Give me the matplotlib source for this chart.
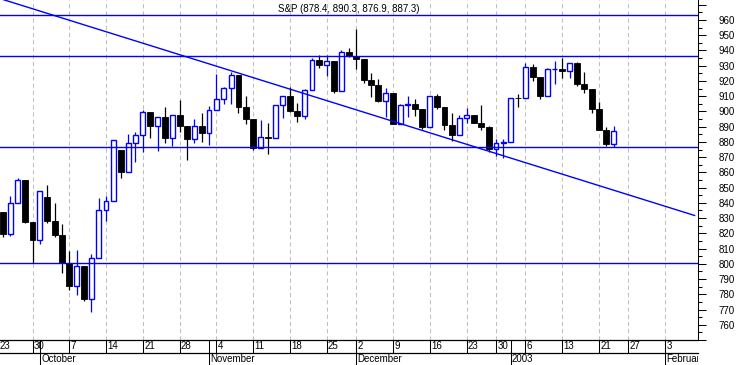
import matplotlib
matplotlib.use('Agg')
import matplotlib.pyplot as plt
import numpy as np
import pandas as pd

plt.rcParams['font.family'] = ['Liberation Sans', 'DejaVu Sans']
plt.rcParams['lines.scale_dashes'] = False

title = "S&P (878.4, 890.3, 876.9, 887.3)"

calendar_start = '2002-09-23'
calendar_end = '2003-02-28'
holidays = ['2002-11-28', '2002-12-25', '2003-01-01', '2003-01-20']

dates = [
    '2002-09-24', '2002-09-25', '2002-09-26', '2002-09-27', '2002-09-30',
    '2002-10-01', '2002-10-02', '2002-10-03', '2002-10-04', '2002-10-07', '2002-10-08',
    '2002-10-09', '2002-10-10', '2002-10-11', '2002-10-14', '2002-10-15', '2002-10-16',
    '2002-10-17', '2002-10-18', '2002-10-21', '2002-10-22', '2002-10-23', '2002-10-24',
    '2002-10-25', '2002-10-28', '2002-10-29', '2002-10-30', '2002-10-31',
    '2002-11-01', '2002-11-04', '2002-11-05', '2002-11-06', '2002-11-07', '2002-11-08',
    '2002-11-11', '2002-11-12', '2002-11-13', '2002-11-14', '2002-11-15', '2002-11-18',
    '2002-11-19', '2002-11-20', '2002-11-21', '2002-11-22', '2002-11-25', '2002-11-26',
    '2002-11-27', '2002-11-29',
    '2002-12-02', '2002-12-03', '2002-12-04', '2002-12-05', '2002-12-06', '2002-12-09',
    '2002-12-10', '2002-12-11', '2002-12-12', '2002-12-13', '2002-12-16', '2002-12-17',
    '2002-12-18', '2002-12-19', '2002-12-20', '2002-12-23', '2002-12-24', '2002-12-26',
    '2002-12-27', '2002-12-30', '2002-12-31',
    '2003-01-02', '2003-01-03', '2003-01-06', '2003-01-07', '2003-01-08', '2003-01-09',
    '2003-01-10', '2003-01-13', '2003-01-14', '2003-01-15', '2003-01-16', '2003-01-17',
    '2003-01-21', '2003-01-22', '2003-01-23',
]

opens = [
    833.7, 819.3, 839.7, 855.0, 827.4,
    815.3, 844.0, 827.9, 819.0, 800.6, 785.3, 798.6, 776.8, 803.9, 835.3, 841.4, 875.0,
    860.0, 879.2, 884.4, 899.7, 890.2, 896.1, 882.5, 897.7, 890.2, 882.2, 890.7,
    885.8, 901.0, 908.4, 915.4, 923.8, 902.7, 894.7, 876.2, 883.0, 882.5, 904.3, 909.8,
    900.4, 896.7, 914.2, 933.8, 930.6, 932.9, 913.3, 938.9,
    936.3, 934.5, 920.8, 917.6, 906.6, 912.2, 892.0, 904.5, 905.0, 901.6, 889.5, 910.4,
    903.0, 891.1, 884.3, 895.7, 897.4, 892.5, 889.7, 875.4, 879.4,
    879.8, 909.0, 908.6, 929.0, 922.9, 909.9, 927.5, 927.6, 926.3, 931.7, 918.2, 914.6,
    901.8, 887.6, 878.4,
]
highs = [
    833.7, 844.2, 856.6, 855.0, 827.4,
    847.9, 851.9, 840.0, 825.9, 808.2, 808.9, 798.6, 806.5, 843.3, 844.4, 881.3, 875.0,
    885.4, 886.7, 900.7, 899.7, 896.1, 902.8, 897.7, 907.4, 890.6, 895.3, 898.8,
    903.4, 924.6, 915.8, 925.7, 923.8, 910.1, 894.7, 894.3, 892.5, 904.3, 910.2, 915.9,
    905.5, 915.0, 935.1, 937.2, 937.2, 932.9, 940.4, 941.8,
    954.3, 934.5, 925.3, 921.5, 915.5, 912.2, 905.0, 909.9, 908.4, 901.6, 910.4, 911.2,
    903.0, 899.2, 897.8, 902.4, 897.4, 903.9, 890.5, 882.1, 881.9,
    909.0, 911.3, 931.8, 930.8, 922.9, 928.3, 932.9, 935.1, 931.7, 932.6, 926.0, 914.6,
    906.0, 889.7, 890.3,
]
lows = [
    817.4, 818.5, 839.7, 826.8, 800.2,
    812.8, 826.5, 817.3, 794.1, 783.0, 779.5, 775.8, 768.6, 803.9, 828.4, 841.4, 856.3,
    860.0, 866.6, 873.1, 882.4, 873.8, 879.2, 877.0, 886.2, 867.9, 879.2, 879.8,
    877.7, 901.0, 904.9, 905.0, 898.7, 891.6, 874.6, 876.2, 872.1, 882.5, 895.4, 899.5,
    893.1, 894.9, 914.2, 928.8, 923.3, 912.1, 913.3, 935.6,
    927.7, 918.7, 909.5, 905.9, 896.0, 892.0, 892.0, 896.5, 897.0, 888.5, 889.5, 901.7,
    887.8, 880.3, 884.3, 892.3, 892.3, 887.5, 873.6, 870.6, 869.5,
    879.8, 903.1, 908.6, 919.9, 908.3, 909.9, 917.7, 922.1, 921.7, 916.7, 912.0, 899.0,
    887.6, 877.6, 876.9,
]
closes = [
    819.3, 839.7, 855.0, 827.4, 815.3,
    847.9, 827.9, 819.0, 800.6, 785.3, 798.6, 776.8, 803.9, 835.3, 841.4, 881.3, 860.0,
    879.2, 884.4, 899.7, 890.2, 896.1, 882.5, 897.7, 890.2, 882.2, 890.7, 885.8,
    901.0, 908.4, 915.4, 923.8, 902.7, 894.7, 876.2, 883.0, 882.5, 904.3, 909.8, 900.4,
    896.7, 914.2, 933.8, 930.6, 932.9, 913.3, 938.9, 936.3,
    934.5, 920.8, 917.6, 906.6, 912.2, 892.0, 904.5, 905.0, 901.6, 889.5, 910.4, 903.0,
    891.1, 884.3, 895.8, 897.4, 892.5, 889.7, 875.4, 879.4, 879.8,
    909.0, 908.6, 929.0, 922.9, 909.9, 927.6, 927.6, 926.3, 931.7, 918.2, 914.6, 901.8,
    887.6, 878.4, 887.3,
]

level_lines = [963.3, 936.2, 876.5, 800.3]
trend_dates = ['2002-09-23', '2003-02-07']
trend_values = [974.9, 831.7]
month_labels = ['October', 'November', 'December', '2003', 'February']
y_ticks = list(range(750, 971, 10))

BLUE = '#0000FF'
W, H = 738, 365

# trading-day calendar
cal = [d for d in pd.bdate_range(calendar_start, calendar_end)
       if d.strftime('%Y-%m-%d') not in holidays]
pos = {d.strftime('%Y-%m-%d'): i for i, d in enumerate(cal)}

ref = pos['2002-09-30']
xl = (ref - 32.5 / 7.357, ref + (698 - 32.5) / 7.357)

# week starts and month starts
week_pos, week_lab = [], []
month_pos = []
prev = None
for i, d in enumerate(cal):
    wk = d.isocalendar()[:2]
    if wk != prev and i < xl[1]:
        week_pos.append(i)
        week_lab.append(str(d.day))
    prev = wk
    if i > 0 and d.month != cal[i - 1].month and i < xl[1]:
        month_pos.append(i)

fig = plt.figure(figsize=(W / 100, H / 100), dpi=100)
ax = fig.add_axes([0, 25 / H, 698 / W, 340 / H])
ax2 = fig.add_axes([0, 0, 698 / W, 25 / H])

x = np.array([pos[d] for d in dates], dtype=float)
o = np.array(opens); h = np.array(highs); l = np.array(lows); c = np.array(closes)
up = c >= o
dn = ~up

for p in week_pos:
    ax.axvline(p, color='#c0c0c0', lw=0.75, linestyle=(0, (3.0, 2.2)), zorder=1)

ax.vlines(x[dn], l[dn], h[dn], color='black', lw=0.9, zorder=2)
ax.vlines(x[up], l[up], h[up], color=BLUE, lw=0.9, zorder=2)
ax.bar(x[dn], c[dn] - o[dn], bottom=o[dn], width=0.8, color='black',
       edgecolor='black', lw=0.6, zorder=3)
ax.bar(x[up], c[up] - o[up], bottom=o[up], width=0.66, facecolor='white',
       edgecolor=BLUE, lw=1.0, zorder=3)

for v in level_lines:
    ax.axhline(v, color=BLUE, lw=1.0, zorder=4)
ax.plot([pos[trend_dates[0]], pos[trend_dates[1]]], trend_values, color=BLUE,
        lw=1.0, zorder=4)

ax.set_xlim(*xl)
ax.set_ylim(750.2, 973.1)
ax.set_xticks([])
for s in ['top', 'left', 'bottom']:
    ax.spines[s].set_visible(False)
ax.spines['right'].set_linewidth(0.75)
ax.yaxis.tick_right()
ax.set_yticks(y_ticks)
ax.set_yticklabels(['' if (t < 760 or t > 960) else str(t) for t in y_ticks])
ax.set_yticks(np.arange(755, 975, 10), minor=True)
ax.tick_params(axis='y', which='major', length=5.8, width=0.75, pad=9, labelsize=7)
ax.tick_params(axis='y', which='minor', length=3, width=0.75)
ax.text(0.5, 1 - 9 / 340, title, transform=ax.transAxes, ha='center', va='center',
        fontsize=7)

# date rows
ax2.set_xlim(*xl)
ax2.set_ylim(0, 2)
ax2.axis('off')
ax2.axhline(2, color='black', lw=0.9, clip_on=False)
ax2.axhline(1, color='black', lw=0.9, clip_on=False)
ax2.vlines(week_pos, 1, 2, color='black', lw=0.75)
ax2.vlines(month_pos, 0, 2, color='black', lw=0.75)
for p, t in zip(week_pos, week_lab):
    ax2.text(max(p + 0.17, xl[0] - 0.05), 1.5, t, ha='left', va='center', fontsize=7,
             clip_on=True)
for p, t in zip(month_pos, month_labels):
    ax2.text(p + 0.17, 0.5, t, ha='left', va='center', fontsize=7, clip_on=True)

fig.savefig('out.png', dpi=100)
